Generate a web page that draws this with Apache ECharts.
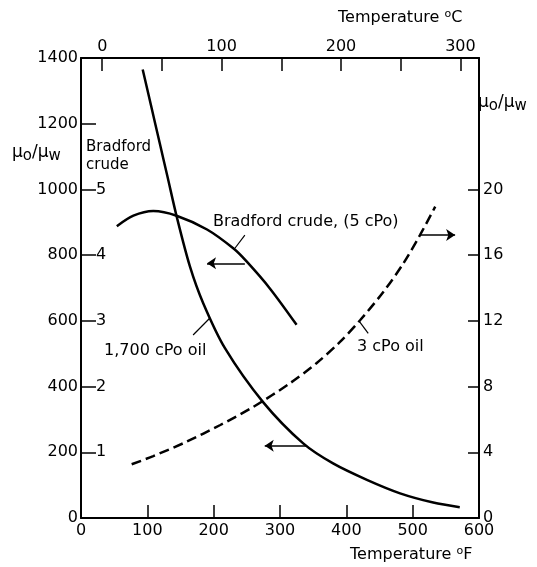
<!DOCTYPE html>
<html><head><meta charset="utf-8">
<script src="https://cdn.jsdelivr.net/npm/echarts@6/dist/echarts.min.js"></script>
<style>html,body{margin:0;padding:0;background:#fff}#c{width:537px;height:567px}</style>
</head><body><div id="c"></div>
<script>
// ---- axis ticks / labels ----
const fLabels = [0, 100, 200, 300, 400, 500, 600];
const fTickMarks = [100, 200, 300, 400, 500];
const cLabels = [0, 100, 200, 300];
const cTickMarks = [0, 50, 100, 150, 200, 250, 300];
const leftLabels = [0, 200, 400, 600, 800, 1000, 1200, 1400];
const leftTickMarks = [200, 400, 600, 800, 1000, 1200];
const bradLabels = [1, 2, 3, 4, 5];
const rightLabels = [0, 4, 8, 12, 16, 20];
const rightTickMarks = [4, 8, 12, 16, 20];

// ---- series (x in deg F) ----
const oil1700 = [[93,1365],[105.5,1256],[119,1138],[130.6,1037],[144.3,917],[164.3,765],[184.4,653],[217,517],[274.8,352],[335,227],[380,166],[431,116],[481,75],[531,47],[571,33]];   // left axis
const bradford = [[54,4.44],[79,4.60],[109,4.67],[144,4.60],[190,4.39],[230,4.10],[250,3.90],[285,3.49],[325,2.94]];                                                 // inner Bradford axis
const oil3 = [[76.4,3.27],[109,3.77],[159,4.64],[210,5.66],[260,6.77],[315,8.2],[355,9.42],[390,10.7],[421,12.05],[456,13.77],[486,15.5],[511,17.22],[534,18.95]];   // right axis

// ---- annotation arrows and leaders ----
const arrowsLeft = [[[247,775],[190,775]], [[340,220],[277,220]]];
const arrowsRight = [[[511,17.22],[564,17.22]]];
const leadersLeft = [[[247,861],[232,821]], [[169,557],[194,608]]];
const leadersRight = [[[433,11.24],[419,12.0]]];

const FONT = 'DejaVu Sans';
const fToC = f => (f - 32) * 5 / 9;

const chart = echarts.init(document.getElementById('c'));
const axisLine = {show: true, onZero: false, lineStyle: {color: '#000', width: 2}};
const tickStyle = {color: '#000', width: 1.5};
const lbl = {color: '#000', fontSize: 16, fontFamily: FONT, formatter: v => String(v)};

const muRich = {
  m: {fontSize: 17, fontFamily: FONT, color: '#000', lineHeight: 22},
  s: {fontSize: 15, fontFamily: FONT, color: '#000', lineHeight: 22, padding: [7, 0, 0, 0]}
};
const supRich = {
  m: {fontSize: 16, fontFamily: FONT, color: '#000', lineHeight: 20},
  p: {fontSize: 11, fontFamily: FONT, color: '#000', lineHeight: 20, padding: [0, 0, 8, 0]}
};
const txt = (x, y, text, extra) => ({
  type: 'text', x: x, y: y, silent: true,
  style: Object.assign({text: text, fill: '#000', font: '16px "' + FONT + '"', verticalAlign: 'middle'}, extra || {})
});

chart.setOption({
  animation: false,
  backgroundColor: '#fff',
  grid: {left: 81, right: 58, top: 58, bottom: 49},
  xAxis: [
    {type: 'value', position: 'bottom', min: 0, max: 600, interval: 100,
     axisLine: axisLine,
     axisTick: {show: true, inside: true, length: 13, customValues: fTickMarks, lineStyle: tickStyle},
     axisLabel: Object.assign({customValues: fLabels, margin: 5}, lbl),
     splitLine: {show: false}},
    {type: 'value', position: 'top', min: fToC(0), max: fToC(600),
     axisLine: axisLine,
     axisTick: {show: true, inside: true, length: 13, customValues: cTickMarks, lineStyle: tickStyle},
     axisLabel: Object.assign({customValues: cLabels, margin: 3}, lbl),
     splitLine: {show: false}}
  ],
  yAxis: [
    {type: 'value', position: 'left', min: 0, max: 1400, interval: 200,
     axisLine: axisLine,
     axisTick: {show: true, inside: true, length: 15, customValues: leftTickMarks, lineStyle: tickStyle},
     axisLabel: Object.assign({customValues: leftLabels, margin: 3}, lbl),
     splitLine: {show: false}},
    {type: 'value', position: 'left', min: 0, max: 7,
     axisLine: {show: false, onZero: false},
     axisTick: {show: false},
     axisLabel: Object.assign({customValues: bradLabels, inside: true, margin: 15}, lbl),
     splitLine: {show: false}},
    {type: 'value', position: 'right', min: 0, max: 28,
     axisLine: axisLine,
     axisTick: {show: true, inside: true, length: 11, customValues: rightTickMarks, lineStyle: tickStyle},
     axisLabel: Object.assign({customValues: rightLabels, margin: 4}, lbl),
     splitLine: {show: false}}
  ],
  series: [
    {type: 'line', name: '1,700 cPo oil', xAxisIndex: 0, yAxisIndex: 0, data: oil1700, smooth: 0.3,
     showSymbol: false, lineStyle: {color: '#000', width: 2.5}},
    {type: 'line', name: 'Bradford crude, (5 cPo)', xAxisIndex: 0, yAxisIndex: 1, data: bradford, smooth: 0.3,
     showSymbol: false, lineStyle: {color: '#000', width: 2.5}},
    {type: 'line', name: '3 cPo oil', xAxisIndex: 0, yAxisIndex: 2, data: oil3, smooth: 0.3,
     showSymbol: false, lineStyle: {color: '#000', width: 2.5, type: [10, 5]}},
    {type: 'lines', coordinateSystem: 'cartesian2d', xAxisIndex: 0, yAxisIndex: 0,
     symbol: ['none', 'arrow'], symbolSize: [7, 9],
     lineStyle: {color: '#000', width: 1.5, opacity: 1},
     data: arrowsLeft.map(c => ({coords: c}))},
    {type: 'lines', coordinateSystem: 'cartesian2d', xAxisIndex: 0, yAxisIndex: 2,
     symbol: ['none', 'arrow'], symbolSize: [7, 9],
     lineStyle: {color: '#000', width: 1.5, opacity: 1},
     data: arrowsRight.map(c => ({coords: c}))},
    {type: 'lines', coordinateSystem: 'cartesian2d', xAxisIndex: 0, yAxisIndex: 0,
     symbol: 'none', lineStyle: {color: '#000', width: 1.2, opacity: 1},
     data: leadersLeft.map(c => ({coords: c}))},
    {type: 'lines', coordinateSystem: 'cartesian2d', xAxisIndex: 0, yAxisIndex: 2,
     symbol: 'none', lineStyle: {color: '#000', width: 1.2, opacity: 1},
     data: leadersRight.map(c => ({coords: c}))}
  ],
  graphic: [
    txt(338, 18, '{m|Temperature }{p|o}{m|C}', {rich: supRich}),
    txt(350, 555, '{m|Temperature }{p|o}{m|F}', {rich: supRich}),
    txt(12, 153, '{m|μ}{s|o}{m|/μ}{s|w}', {rich: muRich}),
    txt(478, 103, '{m|μ}{s|o}{m|/μ}{s|w}', {rich: muRich}),
    txt(86, 156, 'Bradford\ncrude', {lineHeight: 18, font: '15px "' + FONT + '"'}),
    txt(213, 222, 'Bradford crude, (5 cPo)'),
    txt(104, 351, '1,700 cPo oil'),
    txt(357, 347, '3 cPo oil')
  ]
});
</script></body></html>
